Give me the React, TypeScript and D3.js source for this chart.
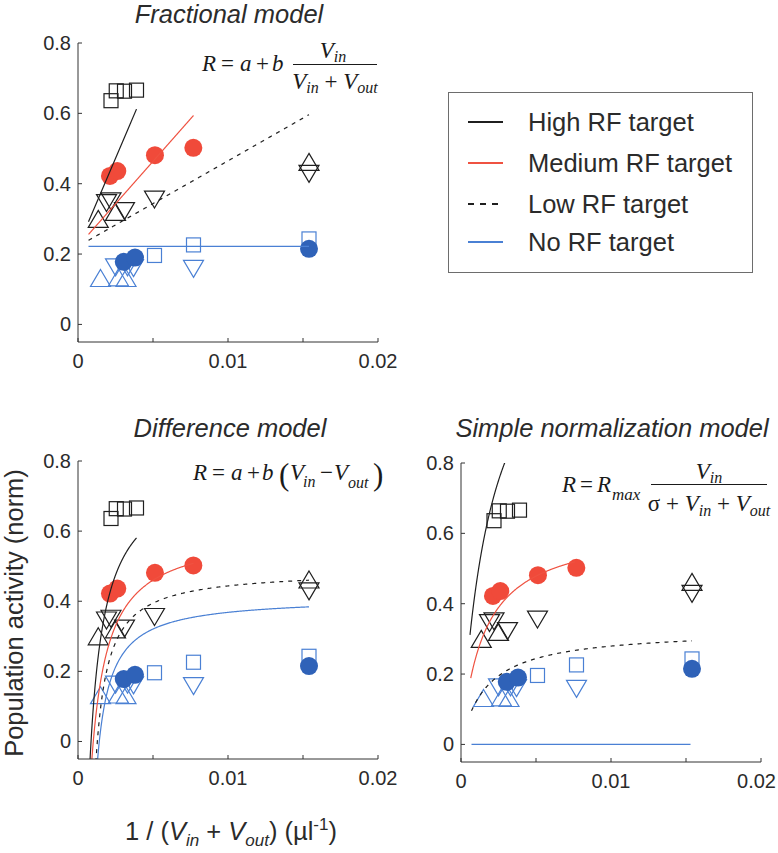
import React from 'react';
import * as d3 from 'd3';

type Pt = [number, number];

const W = 778;
const H = 853;

// ---- legend / series meta ----
const targetNames = ['High RF target', 'Medium RF target', 'Low RF target', 'No RF target'];
const targetColors = ['#1f1f1f', '#ef5241', '#1f1f1f', '#4a80d4'];
const targetDash = ['', '', '4,5', ''];

// ---- axes ----
const xTicks = [0, 0.005, 0.01, 0.015, 0.02];
const xTickLabels = ['0', '', '0.01', '', '0.02'];
const yTicks = [0, 0.2, 0.4, 0.6, 0.8];
const yTickLabels = ['0', '0.2', '0.4', '0.6', '0.8'];
const xDomain = [0, 0.02];
const yDomain = [-0.05, 0.8];

// ---- data points (x = 1/(Vin+Vout), y = normalized activity) ----
const highSquares: Pt[] = [[0.0022, 0.636], [0.00255, 0.664], [0.0031, 0.663], [0.0039, 0.666]];
const mediumCircles: Pt[] = [[0.00213, 0.422], [0.00262, 0.436], [0.00513, 0.481], [0.00769, 0.502]];
const lowUpTriangles: Pt[] = [[0.00135, 0.3], [0.0025, 0.32], [0.0154, 0.462]];
const lowDownTriangles: Pt[] = [[0.0019, 0.345], [0.0022, 0.35], [0.0031, 0.322], [0.0051, 0.355], [0.0154, 0.428]];
const noSquares: Pt[] = [[0.0051, 0.196], [0.0077, 0.226], [0.0154, 0.243]];
const noCircles: Pt[] = [[0.00305, 0.178], [0.0038, 0.19], [0.0154, 0.215]];
const noUpTriangles: Pt[] = [[0.0015, 0.132], [0.0027, 0.134], [0.0032, 0.132]];
const noDownTriangles: Pt[] = [[0.0025, 0.162], [0.0033, 0.162], [0.0037, 0.16], [0.0077, 0.158]];

// ---- fitted model parameters (per target: High, Medium, Low, No) ----
const fracIntercept = 0.222;
const fracSlopes = [100, 48.3, 24.3, 0];
const diffAsymptote = [0.7855, 0.601, 0.489, 0.412];
const diffScale = [0.00084, 0.000733, 0.000435, 0.00042];
const diffShift = [0.0002, 0.0002, -0.0004, -0.0004];
const normRmax = [1.35, 0.621, 0.327, 0];
const normHalf = [0.002, 0.00149, 0.0017, 0.001];
const curveStart = [0.0007, 0.0007, 0.0007, 0.0007];
const curveEnd = [0.0039, 0.0077, 0.0154, 0.0154];
const normStart = [0.0006, 0.00065, 0.0007, 0.0007];
const normEnd = [0.0039, 0.0076, 0.0154, 0.0153];

const SANS = "'Liberation Sans', Arial, Helvetica, sans-serif";
const SERIF = "'Liberation Serif', 'Times New Roman', serif";
const TEXT = '#2b2b2b';

type PanelDef = {
  key: string;
  left: number;
  right: number;
  top: number;
  bottom: number;
  title: string;
  titleX: number;
  titleY: number;
  model: (i: number, x: number) => number;
  starts: number[];
  ends: number[];
};

const panels: PanelDef[] = [
  {
    key: 'frac', left: 78, right: 378, top: 43, bottom: 342,
    title: 'Fractional model', titleX: 229, titleY: 23,
    model: (i, x) => fracIntercept + fracSlopes[i] * x,
    starts: curveStart, ends: curveEnd,
  },
  {
    key: 'diff', left: 78, right: 378, top: 461, bottom: 759,
    title: 'Difference model', titleX: 230, titleY: 437,
    model: (i, x) => diffAsymptote[i] - diffScale[i] / (x + diffShift[i]),
    starts: curveStart, ends: curveEnd,
  },
  {
    key: 'norm', left: 461, right: 761, top: 463, bottom: 762,
    title: 'Simple normalization model', titleX: 612, titleY: 437,
    model: (i, x) => (normRmax[i] * x) / (x + normHalf[i]),
    starts: normStart, ends: normEnd,
  },
];

function tri(cx: number, cy: number, up: boolean) {
  const w = 20, h = 17;
  return up
    ? `M${cx},${cy - h / 2}L${cx + w / 2},${cy + h / 2}L${cx - w / 2},${cy + h / 2}Z`
    : `M${cx},${cy + h / 2}L${cx + w / 2},${cy - h / 2}L${cx - w / 2},${cy - h / 2}Z`;
}

function Panel({ p }: { p: PanelDef }) {
  const x = d3.scaleLinear().domain(xDomain).range([p.left, p.right]);
  const y = d3.scaleLinear().domain(yDomain).range([p.bottom, p.top]);
  const line = d3.line<Pt>().x((d) => x(d[0])).y((d) => y(d[1]));
  const clipId = `clip-${p.key}`;
  const sq = 14;
  const mk = 1.2;
  return (
    <g>
      <defs>
        <clipPath id={clipId}>
          <rect x={p.left} y={p.top} width={p.right - p.left} height={p.bottom - p.top} />
        </clipPath>
      </defs>
      {lowUpTriangles.map((d, i) => (
        <path key={`lu${i}`} d={tri(x(d[0]), y(d[1]), true)} fill="none" stroke="#1f1f1f" strokeWidth={mk} />
      ))}
      {lowDownTriangles.map((d, i) => (
        <path key={`ld${i}`} d={tri(x(d[0]), y(d[1]), false)} fill="none" stroke="#1f1f1f" strokeWidth={mk} />
      ))}
      {highSquares.map((d, i) => (
        <rect key={`hs${i}`} x={x(d[0]) - sq / 2} y={y(d[1]) - sq / 2} width={sq} height={sq} fill="none" stroke="#1f1f1f" strokeWidth={mk} />
      ))}
      {noUpTriangles.map((d, i) => (
        <path key={`nu${i}`} d={tri(x(d[0]), y(d[1]), true)} fill="none" stroke="#4a80d4" strokeWidth={mk} />
      ))}
      {noDownTriangles.map((d, i) => (
        <path key={`nd${i}`} d={tri(x(d[0]), y(d[1]), false)} fill="none" stroke="#4a80d4" strokeWidth={mk} />
      ))}
      {noSquares.map((d, i) => (
        <rect key={`ns${i}`} x={x(d[0]) - sq / 2} y={y(d[1]) - sq / 2} width={sq} height={sq} fill="none" stroke="#4a80d4" strokeWidth={mk} />
      ))}
      {noCircles.map((d, i) => (
        <circle key={`nc${i}`} cx={x(d[0])} cy={y(d[1])} r={9} fill="#2f62b8" />
      ))}
      {mediumCircles.map((d, i) => (
        <circle key={`mc${i}`} cx={x(d[0])} cy={y(d[1])} r={9} fill="#f04a3a" />
      ))}
      <g clipPath={`url(#${clipId})`}>
        {targetNames.map((_, i) => {
          const xs = d3.range(301).map((k) => p.starts[i] + ((p.ends[i] - p.starts[i]) * k) / 300);
          const pts: Pt[] = xs.map((xx) => [xx, Math.max(-0.2, Math.min(1.2, p.model(i, xx)))]);
          return (
            <path key={`c${i}`} d={line(pts) || ''} fill="none" stroke={targetColors[i]}
              strokeWidth={1.2} strokeDasharray={targetDash[i] || undefined} />
          );
        })}
      </g>
      <line x1={p.left} x2={p.right} y1={p.bottom} y2={p.bottom} stroke="#333" strokeWidth={1} />
      <line x1={p.left} x2={p.left} y1={p.top} y2={p.bottom} stroke="#333" strokeWidth={1} />
      {xTicks.map((t, i) => {
        const cx = x(t);
        const overflow = cx + 20 > W - 1;
        return (
          <g key={`xt${i}`}>
            <line x1={cx} x2={cx} y1={p.bottom} y2={p.bottom - 4} stroke="#333" strokeWidth={1} />
            {xTickLabels[i] && (
              <text x={overflow ? W - 2 : cx} y={p.bottom + 26} textAnchor={overflow ? 'end' : 'middle'}
                fontFamily={SANS} fontSize={20} fill={TEXT}>
                {xTickLabels[i]}
              </text>
            )}
          </g>
        );
      })}
      {yTicks.map((t, i) => (
        <g key={`yt${i}`}>
          <line x1={p.left} x2={p.left + 4} y1={y(t)} y2={y(t)} stroke="#333" strokeWidth={1} />
          <text x={p.left - 7} y={y(t) + 7} textAnchor="end" fontFamily={SANS} fontSize={20} fill={TEXT}>
            {yTickLabels[i]}
          </text>
        </g>
      ))}
      <text x={p.titleX} y={p.titleY} textAnchor="middle" fontFamily={SANS} fontStyle="italic" fontSize={25.5} fill={TEXT}>
        {p.title}
      </text>
    </g>
  );
}

function Legend() {
  const rows = [122, 163, 204, 242];
  return (
    <g>
      <rect x={448.5} y={92.5} width={304} height={180} fill="#fff" stroke="#6d6d6d" strokeWidth={1} />
      {targetNames.map((n, i) => (
        <g key={n}>
          <line x1={468} x2={503} y1={rows[i]} y2={rows[i]} stroke={targetColors[i]} strokeWidth={1.8}
            strokeDasharray={targetDash[i] ? '6,6' : undefined} />
          <text x={528} y={rows[i] + 9} fontFamily={SANS} fontSize={25.5} fill={TEXT}>{n}</text>
        </g>
      ))}
    </g>
  );
}

function Formulas() {
  const fs = 23;
  const ss = 16;
  const it = { fontStyle: 'italic' as const };
  return (
    <g fontFamily={SERIF} fill="#1a1a1a" fontSize={fs} style={{ whiteSpace: 'pre' }}>
      {/* Fractional */}
      <text x={202} y={71} {...it}>R</text>
      <text x={221} y={71}>=</text>
      <text x={240} y={71} {...it}>a</text>
      <text x={256} y={71}>+</text>
      <text x={272} y={71} {...it}>b</text>
      <line x1={293} x2={377} y1={64.5} y2={64.5} stroke="#1a1a1a" strokeWidth={1} />
      <text x={333} y={58} textAnchor="middle"><tspan {...it}>V</tspan><tspan {...it} fontSize={ss} dy={4}>in</tspan></text>
      <text x={335} y={89} textAnchor="middle">
        <tspan {...it}>V</tspan><tspan {...it} fontSize={ss} dy={4}>in</tspan><tspan dy={-4}> + </tspan>
        <tspan {...it}>V</tspan><tspan {...it} fontSize={ss} dy={4}>out</tspan>
      </text>
      {/* Difference */}
      <text x={193} y={480} {...it}>R</text>
      <text x={212} y={480}>=</text>
      <text x={231} y={480} {...it}>a</text>
      <text x={247} y={480}>+</text>
      <text x={262} y={480} {...it}>b</text>
      <text x={279} y={485} fontSize={31}>(</text>
      <text x={290} y={480} {...it}>V</text>
      <text x={303} y={487} {...it} fontSize={ss}>in</text>
      <text x={320} y={480}>−</text>
      <text x={334} y={480} {...it}>V</text>
      <text x={348} y={488} {...it} fontSize={ss}>out</text>
      <text x={373} y={485} fontSize={31}>)</text>
      {/* Normalization */}
      <text x={562} y={492} {...it}>R</text>
      <text x={580} y={492}>=</text>
      <text x={597} y={492} {...it}>R</text>
      <text x={612} y={500} {...it} fontSize={17}>max</text>
      <line x1={651} x2={767} y1={484.5} y2={484.5} stroke="#1a1a1a" strokeWidth={1} />
      <text x={709} y={479} textAnchor="middle"><tspan {...it}>V</tspan><tspan {...it} fontSize={ss} dy={4}>in</tspan></text>
      <text x={709} y={511} textAnchor="middle">
        <tspan>σ + </tspan><tspan {...it}>V</tspan><tspan {...it} fontSize={ss} dy={5}>in</tspan><tspan dy={-5}> + </tspan>
        <tspan {...it}>V</tspan><tspan {...it} fontSize={ss} dy={5}>out</tspan>
      </text>
    </g>
  );
}

export default function App() {
  return (
    <svg width={W} height={H} viewBox={`0 0 ${W} ${H}`} style={{ display: 'block', position: 'absolute', left: 0, top: 0, background: '#fff' }}>
      <rect x={0} y={0} width={W} height={H} fill="#fff" />
      {panels.map((p) => <Panel key={p.key} p={p} />)}
      <Legend />
      <Formulas />
      <text transform="translate(23,613) rotate(-90)" textAnchor="middle" fontFamily={SANS} fontSize={25.5} fill={TEXT}>
        Population activity (norm)
      </text>
      <text x={231} y={840} textAnchor="middle" fontFamily={SANS} fontSize={25.5} fill={TEXT} style={{ whiteSpace: 'pre' }}>
        1 / (<tspan fontStyle="italic">V</tspan><tspan fontStyle="italic" fontSize={17} dy={6}>in</tspan><tspan dy={-6}> + </tspan>
        <tspan fontStyle="italic">V</tspan><tspan fontStyle="italic" fontSize={17} dy={6}>out</tspan><tspan dy={-6}>) (µl</tspan>
        <tspan fontSize={17} dy={-10}>-1</tspan><tspan dy={10}>)</tspan>
      </text>
    </svg>
  );
}
